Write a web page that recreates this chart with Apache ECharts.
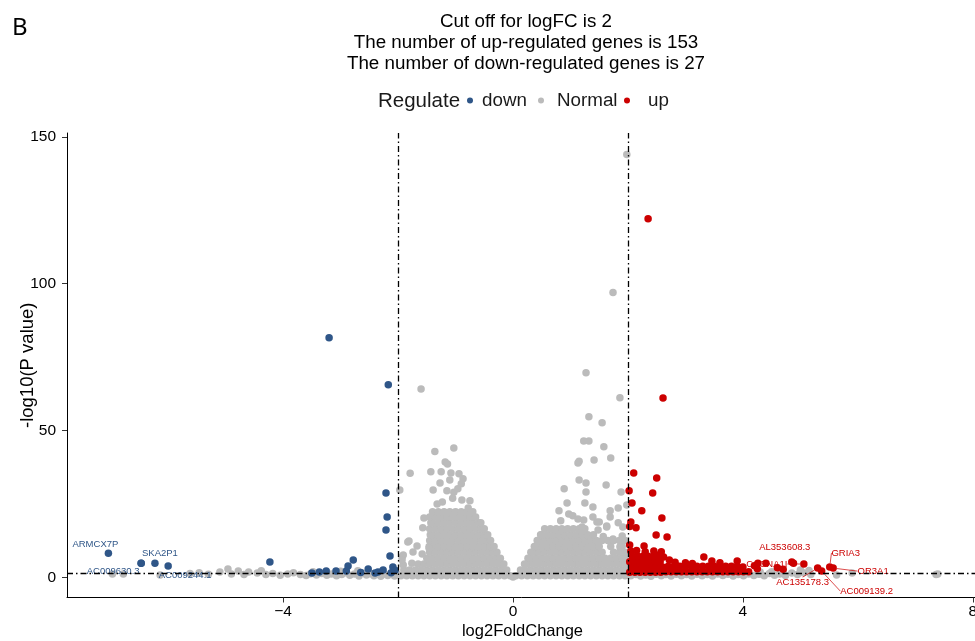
<!DOCTYPE html>
<html><head><meta charset="utf-8">
<script src="https://cdn.jsdelivr.net/npm/echarts@6/dist/echarts.min.js"></script>
<style>html,body{margin:0;padding:0;background:#fff}#c{width:975px;height:641px}</style>
</head><body><div id="c"></div>
<script>
const panelTag = 'B';
const titleLines = ['Cut off for logFC is 2', 'The number of up-regulated genes is 153', 'The number of down-regulated genes is 27'];
const legendTitle = 'Regulate';
const groupNames = ['down', 'Normal', 'up'];
const groupColors = ['#2f5688', '#BBBBBB', '#CC0000'];
const xTicks = [-4, 0, 4, 8];
const yTicks = [0, 50, 100, 150];
const fcCutoffs = [-2, 2];
const pCutoffLine = 1.3;

const downPoints = [
[-6.47,4.9],[-4.23,5.3],[-3.37,1.9],[-3.25,2.2],[-3.08,2.2],[-2.90,2.2],[-2.87,3.9],[-2.78,6.0],
[-2.52,2.9],[-2.35,1.9],[-2.26,2.6],[-2.14,7.3],[-2.09,3.6],[-2.21,16.2],[-2.19,20.6],[-2.21,28.8],
[-2.17,65.6],[-3.20,81.6],[-2.05,2.5],[-2.12,1.6],[-2.40,1.5],[-3.50,1.5],[-2.65,1.7]
];
const downLabeled = [
{gene:'ARMCX7P', x:-7.04, y:8.3},
{gene:'AC009630.3', x:-6.47, y:4.9},
{gene:'SKA2P1', x:-6.23, y:4.9},
{gene:'AC009244.1', x:-6.00, y:3.9}
];

const upPoints = [
[2.35,122.1],[2.61,61.1],[2.10,35.6],[2.50,33.9],[2.02,29.5],[2.43,28.8],[2.07,25.4],[2.24,22.7],
[2.59,20.3],[2.05,18.9],[2.14,16.9],[2.03,17.4],[2.49,14.5],[2.68,13.8],[2.28,10.7],[2.03,11.1],
[3.32,7.0],[3.46,5.6],[3.90,5.6],[2.50,7.7],
[2.03,1.8],[2.12,1.8],[2.21,1.8],[2.30,1.8],[2.39,1.8],[2.48,1.8],[2.57,1.8],
[2.07,3.6],[2.16,3.6],[2.25,3.6],[2.34,3.6],[2.43,3.6],[2.52,3.6],[2.60,3.6],
[2.03,5.4],[2.12,5.4],[2.21,5.4],[2.30,5.4],[2.39,5.4],[2.48,5.4],[2.56,5.4],
[2.08,7.2],[2.17,7.2],[2.26,7.2],[2.35,7.2],[2.44,7.2],[2.53,7.0],
[2.05,9.0],[2.15,9.2],[2.30,8.8],[2.45,9.0],
[2.66,2.0],[2.75,2.0],[2.84,2.0],[2.93,2.0],[3.02,2.0],[3.11,2.0],[3.20,2.0],[3.29,2.0],[3.38,2.0],
[3.47,2.0],[3.56,2.0],[3.65,2.0],[3.74,2.0],[3.83,2.0],[3.92,2.0],[4.01,2.0],[4.10,2.0],
[2.70,3.8],[2.80,3.8],[2.90,3.8],[3.00,3.8],[3.10,3.8],[3.20,3.8],[3.30,3.8],[3.40,3.8],[3.50,3.8],
[3.60,3.8],[3.70,3.8],[3.80,3.8],[3.90,3.8],[4.00,3.6],
[2.72,6.0],[2.82,5.2],[3.00,5.0],[3.12,4.8],[2.62,7.0],[2.58,8.8],[3.60,5.0],[4.25,3.0],[4.20,4.0],
[4.26,4.9],[4.40,4.9],[4.60,3.3],[4.70,2.8],[4.88,4.9]
];
const upLabeled = [
{gene:'AL353608.3', x:4.85, y:5.3},
{gene:'CACNA1I', x:5.06, y:4.6},
{gene:'GRIA3', x:5.51, y:3.6},
{gene:'OR3A1', x:5.57, y:3.2},
{gene:'AC135178.3', x:5.30, y:3.2},
{gene:'AC009139.2', x:5.37, y:2.2}
];

const normalOutliers = [
[1.98,144.0],[1.74,97.0],[1.27,69.7],[-1.60,64.2],[1.86,61.2],[1.32,54.7],[1.55,52.7],
[1.23,46.5],[1.32,46.5],[1.58,44.5],[-1.03,44.1],[-1.36,42.9],[1.41,40.0],[1.70,40.7],
[1.13,39.0],[1.15,39.6],[-1.18,39.3],[-1.14,38.6],[-1.79,35.5],[-1.43,36.0],[-1.25,36.0],
[-1.08,35.6],[-0.94,35.3],[-0.87,33.6],[-1.10,33.2],[-1.27,32.2],[-0.90,31.9],[1.15,33.2],
[1.27,32.2],[1.62,31.5],[-1.39,29.8],[-1.15,29.5],[-0.96,30.2],[-1.97,29.8],[-1.03,29.0],
[1.27,29.1],[1.88,29.1],[0.89,30.2],[-1.23,25.7],[-0.89,26.4],[-0.75,26.1],[-0.78,23.7],
[-1.32,25.0],[-1.05,27.0],[0.94,25.4],[1.25,25.4],[1.39,24.0],[0.80,22.7],[0.97,21.6],
[1.04,21.0],[1.13,19.9],[0.83,19.3],[1.23,19.6],[1.39,20.6],[1.46,18.9],[1.69,22.7],
[1.83,23.7],[1.98,24.7],[1.69,20.6],[1.83,18.6],[1.63,17.5],[1.74,13.1],[1.91,17.2],
[1.20,17.2],[1.48,16.2],[1.57,14.0],[1.86,10.5],[1.50,18.9],[1.90,14.1],[1.63,17.2],
[-1.55,20.3],[-1.57,16.9],[-1.81,12.4],[-1.83,12.1],[-1.67,10.7],[-1.46,10.0],[-1.74,8.7],[-1.58,8.0],
[-1.93,7.0],[-1.91,7.7],[-1.76,4.9],[-1.91,4.3],[-1.93,6.0],[0.00,0.2]
];
const normalLeftTail = [
[-6.97,1.2],[-6.78,1.2],[-6.14,0.9],[-5.62,1.4],[-5.46,1.6],[-5.30,1.1],[-5.10,1.9],[-4.96,2.9],
[-4.90,1.2],[-4.78,2.2],[-4.68,1.0],[-4.60,1.9],[-4.45,1.5],[-4.38,2.3],[-4.30,1.0],[-4.18,1.4],
[-4.05,0.8],[-3.92,1.2],[-3.82,1.6],[-3.70,1.0],[-3.60,0.7],[-3.52,1.3],[-3.48,2.0],[-3.42,0.9],
[-3.33,1.4],[-3.24,0.8],[-3.16,1.2],[-3.07,0.6],[-3.00,2.1],[-2.98,1.0],[-2.92,1.6],[-2.84,0.8],
[-2.76,1.2],[-2.70,2.3],[-2.68,0.5],[-2.62,1.5],[-2.55,0.9],[-2.48,1.3],[-2.42,0.6],[-2.36,1.1],
[-2.30,0.4],[-2.28,2.0],[-2.24,1.2],[-2.18,0.7],[-2.12,1.0],[-2.06,0.5],[-2.02,1.4]
];
const normalRightTail = [
[2.05,0.6],[2.14,1.0],[2.22,0.5],[2.31,0.9],[2.40,0.4],[2.49,1.1],[2.58,0.6],[2.66,1.0],[2.75,0.5],
[2.84,1.1],[2.93,0.6],[3.02,1.0],[3.11,0.5],[3.20,1.1],[3.29,0.6],[3.38,1.0],[3.47,0.5],[3.56,1.2],
[3.65,0.7],[3.74,1.1],[3.83,0.5],[3.92,1.0],[4.01,0.6],[4.10,1.2],[4.19,0.7],[4.28,1.1],[4.30,1.9],
[4.37,0.6],[4.46,1.4],[4.50,2.0],[4.55,0.8],[4.64,1.2],[4.70,2.2],[4.74,0.7],[4.85,1.5],[4.95,1.0],
[5.00,2.6],[5.05,1.6],[5.15,2.4],[5.18,1.0],[5.63,0.9],[5.90,1.5],[7.36,1.0],[7.39,1.2]
];
const normalLeftHump = [
{y:0.6, x:[-1.95,-1.85,-1.75,-1.65,-1.55,-1.45,-1.35,-1.25,-1.15,-1.05,-0.95,-0.85,-0.75,-0.65,-0.55,-0.45,-0.35,-0.25,-0.15,-0.05]},
{y:2.6, x:[-1.90,-1.80,-1.70,-1.60,-1.50,-1.40,-1.30,-1.20,-1.10,-1.00,-0.90,-0.80,-0.70,-0.60,-0.50,-0.40,-0.30,-0.20,-0.11]},
{y:4.6, x:[-1.65,-1.55,-1.45,-1.35,-1.25,-1.15,-1.05,-0.95,-0.85,-0.75,-0.65,-0.55,-0.45,-0.35,-0.25,-0.16]},
{y:6.6, x:[-1.50,-1.40,-1.30,-1.20,-1.10,-1.00,-0.90,-0.80,-0.70,-0.60,-0.50,-0.40,-0.30,-0.22]},
{y:8.6, x:[-1.45,-1.35,-1.25,-1.15,-1.05,-0.95,-0.85,-0.75,-0.65,-0.55,-0.45,-0.35,-0.28]},
{y:10.6, x:[-1.46,-1.40,-1.30,-1.20,-1.10,-1.00,-0.90,-0.80,-0.70,-0.60,-0.50,-0.40,-0.33]},
{y:12.6, x:[-1.45,-1.35,-1.25,-1.15,-1.05,-0.95,-0.85,-0.75,-0.65,-0.55,-0.45,-0.39]},
{y:14.6, x:[-1.44,-1.40,-1.30,-1.20,-1.10,-1.00,-0.90,-0.80,-0.70,-0.60,-0.50,-0.44]},
{y:16.6, x:[-1.45,-1.35,-1.25,-1.15,-1.05,-0.95,-0.85,-0.75,-0.65,-0.55,-0.50]},
{y:18.6, x:[-1.43,-1.40,-1.30,-1.20,-1.10,-1.00,-0.90,-0.80,-0.70,-0.60,-0.56]},
{y:20.6, x:[-1.45,-1.35,-1.25,-1.15,-1.05,-0.95,-0.85,-0.75,-0.65]},
{y:22.4, x:[-1.40,-1.30,-1.20,-1.10,-1.00,-0.90,-0.80,-0.70]}
];
const normalRightHump = [
{y:0.6, x:[0.05,0.15,0.25,0.35,0.45,0.55,0.65,0.75,0.85,0.95,1.05,1.15,1.25,1.35,1.45,1.55,1.65,1.75,1.85,1.95]},
{y:2.6, x:[0.13,0.20,0.30,0.40,0.50,0.60,0.70,0.80,0.90,1.00,1.10,1.20,1.30,1.40,1.50,1.60,1.70,1.80,1.90,1.98]},
{y:4.6, x:[0.20,0.25,0.35,0.45,0.55,0.65,0.75,0.85,0.95,1.05,1.15,1.25,1.35,1.45,1.55,1.65,1.75,1.85,1.95]},
{y:6.6, x:[0.26,0.30,0.40,0.50,0.60,0.70,0.80,0.90,1.00,1.10,1.20,1.30,1.40,1.50,1.60,1.70,1.80,1.90,1.97]},
{y:8.6, x:[0.31,0.35,0.45,0.55,0.65,0.75,0.85,0.95,1.05,1.15,1.25,1.35,1.45,1.55,1.75,1.85,1.95]},
{y:10.6, x:[0.37,0.40,0.50,0.60,0.70,0.80,0.90,1.00,1.10,1.20,1.30,1.40,1.50,1.70,1.90]},
{y:12.6, x:[0.42,0.45,0.55,0.65,0.75,0.85,0.95,1.05,1.15,1.25,1.35,1.45,1.55,1.65,1.75,1.85,1.95]},
{y:14.6, x:[0.48,0.50,0.60,0.70,0.80,0.90,1.00,1.10,1.20,1.30,1.40]},
{y:16.6, x:[0.55,0.65,0.75,0.85,0.95,1.05,1.15,1.25]}
];

// label placement (pixel offsets of label centre from its point)
const labelOffsets = {
  'ARMCX7P':[-13,-9], 'SKA2P1':[5,-10], 'AC009630.3':[-28,8], 'AC009244.1':[17,9],
  'AL353608.3':[-7,-15], 'CACNA1I':[-37,0], 'GRIA3':[16,-14], 'OR3A1':[40,3],
  'AC135178.3':[-15,14], 'AC009139.2':[45,20]
};
const withSegment = {'CACNA1I':1,'GRIA3':1,'OR3A1':1,'AC135178.3':1,'AC009139.2':1};

const FONT = 'Liberation Sans, Arial, sans-serif';
const rowsToPoints = rows => rows.flatMap(r => r.x.map(x => [x, r.y]));
const normalData = normalLeftTail.concat(normalRightTail, rowsToPoints(normalLeftHump), rowsToPoints(normalRightHump), normalOutliers);
const labeledItems = (arr) => arr.map(d => ({
  name: d.gene, value: [d.x, d.y],
  label: {show: true},
  labelLine: {show: !!withSegment[d.gene]}
}));
const labelLayoutFn = (p) => {
  const o = labelOffsets[p.text];
  if (!o) return {};
  return {dx: o[0], dy: o[1]};
};
const minus = v => v < 0 ? '\u2212' + Math.abs(v) : String(v);

const chart = echarts.init(document.getElementById('c'), null, {renderer: 'canvas'});
const pointSize = 7.5;
function groupSeries(name, color, data, z) {
  return {
    type: 'scatter', name: name, data: data, symbol: 'circle', symbolSize: pointSize, z: z,
    itemStyle: {color: color, opacity: 1},
    emphasis: {disabled: true},
    label: {show: false, position: 'inside', formatter: '{b}', color: color, fontSize: 9.5, fontFamily: FONT, align: 'center', verticalAlign: 'middle'},
    labelLine: {show: true, lineStyle: {color: color, width: 0.7}},
    labelLayout: labelLayoutFn
  };
}
const legendBase = {orient: 'horizontal', top: 91, padding: 0, itemWidth: 6, itemHeight: 6, icon: 'circle', selectedMode: false};
const legendText = (pad) => ({fontSize: 18.8, color: '#1a1a1a', fontFamily: FONT, padding: [0, 0, 0, pad]});

chart.setOption({
  animation: false,
  backgroundColor: '#fff',
  grid: {left: 67, right: -3, top: 133, bottom: 43.5, containLabel: false, outerBoundsMode: 'none'},
  xAxis: {
    type: 'value', min: -7.76, max: 8.09,
    axisLine: {show: true, onZero: false, lineStyle: {color: '#000', width: 1}},
    axisTick: {show: true, length: 5, customValues: xTicks, lineStyle: {color: '#333', width: 1}},
    axisLabel: {customValues: xTicks, fontSize: 15.5, color: '#000', margin: 6, fontFamily: FONT, formatter: minus},
    splitLine: {show: false},
    name: 'log2FoldChange', nameLocation: 'middle', nameGap: 25, nameMoveOverlap: false,
    nameTextStyle: {fontSize: 16.5, color: '#000', fontFamily: FONT}
  },
  yAxis: {
    type: 'value', min: -6.8, max: 151.3,
    axisLine: {show: true, onZero: false, lineStyle: {color: '#000', width: 1}},
    axisTick: {show: true, length: 5, customValues: yTicks, lineStyle: {color: '#333', width: 1}},
    axisLabel: {customValues: yTicks, fontSize: 15.5, color: '#000', margin: 11, fontFamily: FONT},
    splitLine: {show: false},
    name: '-log10(P value)', nameLocation: 'middle', nameGap: 30, nameRotate: 90, nameMoveOverlap: false,
    nameTextStyle: {fontSize: 18.5, color: '#000', fontFamily: FONT}
  },
  legend: [
    Object.assign({}, legendBase, {data: [groupNames[0]], left: 467, textStyle: legendText(4)}),
    Object.assign({}, legendBase, {data: [groupNames[1]], left: 538, textStyle: legendText(8)}),
    Object.assign({}, legendBase, {data: [groupNames[2]], left: 624, textStyle: legendText(13)})
  ],
  graphic: [
    {type: 'text', x: 12, y: 16, style: {text: panelTag, fontSize: 24, fontFamily: 'Noto Sans, sans-serif', fill: '#000'}},
    {type: 'text', x: 526, y: 42.5, style: {text: titleLines.join('\n'), align: 'center', verticalAlign: 'middle', fontSize: 18.8, lineHeight: 21, fontFamily: FONT, fill: '#000'}},
    {type: 'text', x: 378, y: 101, style: {text: legendTitle, align: 'left', verticalAlign: 'middle', fontSize: 20.5, fontFamily: FONT, fill: '#1a1a1a'}}
  ],
  series: [
    groupSeries(groupNames[1], groupColors[1], normalData, 2),
    groupSeries(groupNames[0], groupColors[0], downPoints.concat(labeledItems(downLabeled)), 3),
    groupSeries(groupNames[2], groupColors[2], upPoints.concat(labeledItems(upLabeled)), 3),
    {
      type: 'scatter', name: 'cutoffs', data: [], z: 5, silent: true,
      markLine: {
        silent: true, symbol: ['none', 'none'], label: {show: false},
        lineStyle: {color: '#000', width: 1.3, type: [6, 3, 1.5, 3]},
        emphasis: {disabled: true},
        data: fcCutoffs.map(v => ({xAxis: v})).concat([{yAxis: pCutoffLine}])
      }
    }
  ]
});
</script></body></html>
